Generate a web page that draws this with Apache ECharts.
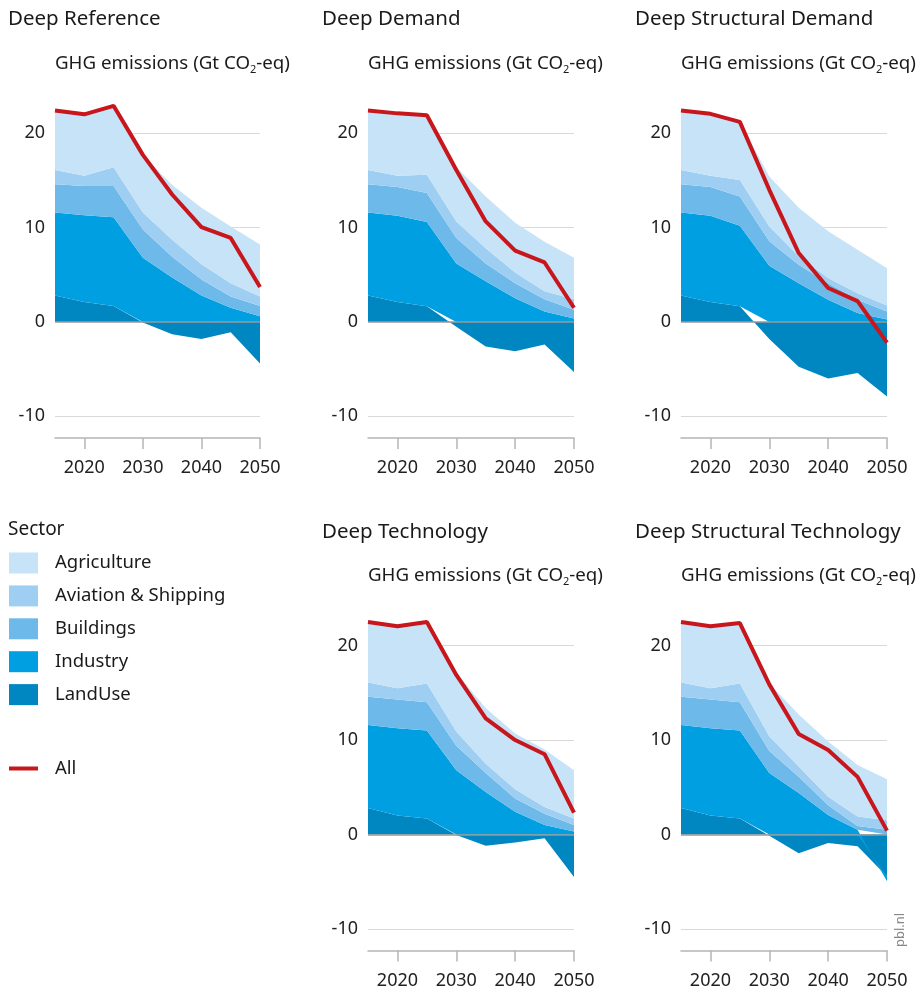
<!DOCTYPE html>
<html><head><meta charset="utf-8">
<script src="https://cdn.jsdelivr.net/npm/echarts@6/dist/echarts.min.js"></script>
<style>html,body{margin:0;padding:0;background:#fff}#c{width:921px;height:995px}</style>
</head><body><div id="c"></div>
<script>
// ---------- DATA ----------
const years = ['2015','2020','2025','2030','2035','2040','2045','2050'];
const sectorNames = ['Agriculture','Aviation & Shipping','Buildings','Industry','LandUse'];
const yTickLabels = [-10, 0, 10, 20];
const scenarioTitles = ['Deep Reference','Deep Demand','Deep Structural Demand','Deep Technology','Deep Structural Technology'];

const deepReferenceLandUse    = [2.8, 2.1, 1.7, -0.05, -1.3, -1.8, -1.1, -4.4];
const deepReferenceIndustry   = [8.8, 9.2, 9.4, 6.8, 4.7, 2.8, 1.5, 0.6];
const deepReferenceBuildings  = [3.0, 3.1, 3.3, 3.0, 2.2, 1.7, 1.2, 1.1];
const deepReferenceAviation   = [1.5, 1.1, 2.0, 1.8, 1.8, 1.6, 1.4, 1.0];
const deepReferenceAgriculture= [6.3, 6.5, 6.5, 6.1, 5.8, 6.0, 6.0, 5.5];
const deepReferenceAll        = [22.4, 22.0, 22.9, 17.7, 13.5, 10.05, 8.9, 3.7];

const deepDemandLandUse    = [2.8, 2.1, 1.65, -0.5, -2.6, -3.1, -2.4, -5.3];
const deepDemandIndustry   = [8.8, 9.15, 8.95, 6.2, 4.3, 2.5, 1.1, 0.35];
const deepDemandBuildings  = [3.0, 3.05, 3.05, 2.7, 1.9, 1.6, 1.3, 0.95];
const deepDemandAviation   = [1.5, 1.2, 1.95, 1.75, 1.6, 1.15, 0.85, 1.1];
const deepDemandAgriculture= [6.3, 6.6, 6.3, 5.75, 5.5, 5.25, 5.25, 4.4];
const deepDemandAll        = [22.4, 22.1, 21.9, 16.1, 10.65, 7.55, 6.3, 1.5];

const deepStructDemandLandUse    = [2.8, 2.1, 1.65, -1.8, -4.75, -6.0, -5.4, -7.9];
const deepStructDemandIndustry   = [8.8, 9.15, 8.55, 5.95, 4.1, 2.35, 0.95, 0.25];
const deepStructDemandBuildings  = [3.0, 3.05, 3.1, 2.6, 1.95, 1.75, 1.4, 0.85];
const deepStructDemandAviation   = [1.5, 1.2, 1.75, 1.55, 0.9, 0.55, 0.7, 0.65];
const deepStructDemandAgriculture= [6.3, 6.55, 6.15, 5.3, 5.15, 4.95, 4.6, 3.95];
const deepStructDemandAll        = [22.4, 22.05, 21.2, 14.0, 7.3, 3.6, 2.2, -2.2];

const deepTechnologyLandUse    = [2.8, 2.0, 1.7, -0.05, -1.2, -0.85, -0.4, -4.5];
const deepTechnologyIndustry   = [8.8, 9.25, 9.3, 6.8, 4.5, 2.4, 1.0, 0.3];
const deepTechnologyBuildings  = [3.0, 3.05, 3.0, 2.6, 2.0, 1.4, 1.2, 0.7];
const deepTechnologyAviation   = [1.5, 1.2, 2.0, 1.5, 1.0, 1.0, 0.7, 0.7];
const deepTechnologyAgriculture= [6.4, 6.55, 6.5, 6.2, 5.9, 5.9, 6.1, 5.1];
const deepTechnologyAll        = [22.5, 22.05, 22.5, 16.9, 12.3, 10.0, 8.5, 2.3];

const deepStructTechLandUse    = [2.8, 2.0, 1.7, -0.15, -2.0, -0.9, -1.25, -4.45];
const deepStructTechIndustry   = [8.8, 9.25, 9.3, 6.5, 4.4, 2.05, 0.5, -0.5];
const deepStructTechBuildings  = [3.0, 3.05, 3.0, 2.35, 1.7, 1.05, 0.4, 0.5];
const deepStructTechAviation   = [1.5, 1.2, 2.0, 1.55, 1.1, 0.9, 1.0, 1.0];
const deepStructTechAgriculture= [6.4, 6.55, 6.5, 5.6, 5.5, 5.85, 5.45, 4.35];
const deepStructTechAll        = [22.5, 22.05, 22.4, 15.9, 10.65, 8.95, 6.1, 0.4];

// ---------- BUILD ----------
const FONT = 'Noto Sans';
const sectorColors = {
  'Agriculture':'#c7e3f7', 'Aviation & Shipping':'#9ecff2', 'Buildings':'#6cb9ea',
  'Industry':'#009fe1', 'LandUse':'#0087c1'
};
const ALL_COLOR = '#c8161d';

const panels = [
  {LandUse:deepReferenceLandUse, Industry:deepReferenceIndustry, Buildings:deepReferenceBuildings, 'Aviation & Shipping':deepReferenceAviation, Agriculture:deepReferenceAgriculture, All:deepReferenceAll},
  {LandUse:deepDemandLandUse, Industry:deepDemandIndustry, Buildings:deepDemandBuildings, 'Aviation & Shipping':deepDemandAviation, Agriculture:deepDemandAgriculture, All:deepDemandAll},
  {LandUse:deepStructDemandLandUse, Industry:deepStructDemandIndustry, Buildings:deepStructDemandBuildings, 'Aviation & Shipping':deepStructDemandAviation, Agriculture:deepStructDemandAgriculture, All:deepStructDemandAll},
  {LandUse:deepTechnologyLandUse, Industry:deepTechnologyIndustry, Buildings:deepTechnologyBuildings, 'Aviation & Shipping':deepTechnologyAviation, Agriculture:deepTechnologyAgriculture, All:deepTechnologyAll},
  {LandUse:deepStructTechLandUse, Industry:deepStructTechIndustry, Buildings:deepStructTechBuildings, 'Aviation & Shipping':deepStructTechAviation, Agriculture:deepStructTechAgriculture, All:deepStructTechAll}
];

const gridPos = [
  {left:55, top:86, width:205, height:352},
  {left:368, top:86, width:206, height:352},
  {left:681, top:86, width:206, height:352},
  {left:368, top:598.5, width:206, height:352},
  {left:681, top:598.5, width:206, height:352}
];
const titlePos = [[8,9],[322,9],[635,9],[322,522],[635,522]];
const subPos = [[55,52],[368,52],[681,52],[368,564],[681,564]];

const grids = [], xAxes = [], yAxes = [], series = [], titles = [];
const stackOrder = ['LandUse','Industry','Buildings','Aviation & Shipping','Agriculture'];

panels.forEach((p, i) => {
  grids.push(Object.assign({containLabel:false}, gridPos[i]));
  xAxes.push({
    type:'category', gridIndex:i, data:years, boundaryGap:false,
    axisLine:{show:true, onZero:false, lineStyle:{color:'#b5b5b5', width:1.5}},
    axisTick:{show:true, length:11, interval:(idx)=> idx % 2 === 1, lineStyle:{color:'#b5b5b5', width:1.5}},
    axisLabel:{interval:(idx)=> idx % 2 === 1, margin:21, fontSize:18, color:'#222', fontFamily:FONT},
    splitLine:{show:false}
  });
  yAxes.push({type:'value', gridIndex:i, min:-12.3, max:25, show:false});
  titles.push({text:scenarioTitles[i], left:titlePos[i][0], top:titlePos[i][1], padding:0,
    textStyle:{fontSize:20.5, fontWeight:'normal', color:'#1a1a1a', fontFamily:FONT}});
  titles.push({text:'GHG emissions (Gt CO{sub|2}-eq)', left:subPos[i][0], top:subPos[i][1], padding:0,
    textStyle:{fontSize:18.7, fontWeight:'normal', color:'#1a1a1a', fontFamily:FONT, lineHeight:23,
      rich:{sub:{fontSize:11, fontFamily:FONT, color:'#1a1a1a', verticalAlign:'bottom', lineHeight:23, padding:[8,0,0,0]}}}});

  stackOrder.forEach((name, k) => {
    const s = {
      name, type:'line', xAxisIndex:i, yAxisIndex:i, stack:'p'+i, data:p[name],
      symbol:'none', smooth:false, color:sectorColors[name],
      lineStyle:{width:0}, areaStyle:{color:sectorColors[name], opacity:1},
      z:2, silent:true
    };
    if (k === 0) {
      s.markLine = {
        silent:true, symbol:['none','none'], z:1, animation:false,
        lineStyle:{color:'#d9d9d9', width:1.2, type:'solid'},
        label:{position:'start', distance:10, color:'#222', fontSize:18, fontFamily:FONT, formatter:(q)=> String(q.value)},
        data: yTickLabels.filter(v => v !== 0).map(v => ({yAxis:v}))
      };
    }
    series.push(s);
  });
  series.push({
    name:'All', type:'line', xAxisIndex:i, yAxisIndex:i, data:p.All,
    symbol:'none', color:ALL_COLOR, lineStyle:{color:ALL_COLOR, width:4}, z:10, silent:true,
    markLine:{
      silent:true, symbol:['none','none'], z:3, animation:false,
      lineStyle:{color:'#999', width:1.5, type:'solid'},
      label:{position:'start', distance:10, color:'#222', fontSize:18, fontFamily:FONT, formatter:(q)=> String(q.value)},
      data: yTickLabels.filter(v => v === 0).map(v => ({yAxis:v}))
    }
  });
});

titles.push({text:'Sector', left:8, top:520, padding:0, textStyle:{fontSize:19, fontWeight:'normal', color:'#1a1a1a', fontFamily:FONT}});

const option = {
  animation:false,
  backgroundColor:'#fff',
  title:titles,
  grid:grids, xAxis:xAxes, yAxis:yAxes, series,
  legend:[
    {data:sectorNames.map(n=>({name:n, icon:'rect'})), orient:'vertical', left:9, top:552.5, padding:0,
     itemWidth:29, itemHeight:21, itemGap:11.9, selectedMode:false,
     textStyle:{fontSize:18.5, color:'#1a1a1a', fontFamily:FONT, padding:[0,0,0,12], lineHeight:21}},
    {data:[{name:'All', icon:'rect'}], orient:'vertical', left:9, top:759, padding:0,
     itemWidth:29, itemHeight:4, selectedMode:false,
     textStyle:{fontSize:18.5, color:'#1a1a1a', fontFamily:FONT, padding:[0,0,0,12]}}
  ],
  graphic:[{type:'text', x:900, y:947, rotation:Math.PI/2,
    style:{text:'pbl.nl', fill:'#888', font:'13px "Noto Sans"', textAlign:'left', textVerticalAlign:'middle'}}]
};
const chart = echarts.init(document.getElementById('c'), null, {renderer:'canvas'});
chart.setOption(option);
</script>
</body></html>
